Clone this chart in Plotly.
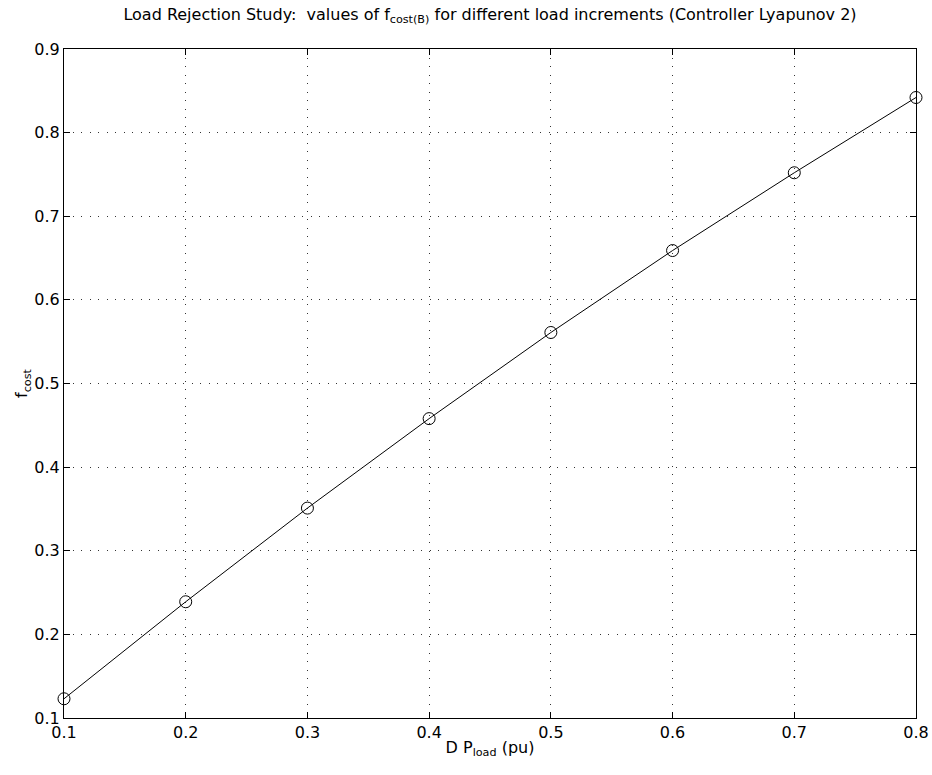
import plotly.graph_objects as go

delta_p_load = [0.1, 0.2, 0.3, 0.4, 0.5, 0.6, 0.7, 0.8]
f_cost = [0.123, 0.239, 0.351, 0.458, 0.561, 0.659, 0.752, 0.842]

x_ticks = [0.1, 0.2, 0.3, 0.4, 0.5, 0.6, 0.7, 0.8]
y_ticks = [0.1, 0.2, 0.3, 0.4, 0.5, 0.6, 0.7, 0.8, 0.9]

FONT = "DejaVu Sans, Liberation Sans, Arial, sans-serif"
FS = 16

fig = go.Figure()
fig.add_trace(go.Scatter(
    x=delta_p_load, y=f_cost, mode="lines+markers",
    line=dict(color="black", width=1),
    marker=dict(symbol="circle-open", size=12, color="black", line=dict(width=1, color="black")),
    showlegend=False, cliponaxis=False,
))

axis_common = dict(
    showline=True, linecolor="black", linewidth=1, mirror="ticks",
    ticks="inside", ticklen=6, tickcolor="black", tickwidth=1,
    showgrid=True, gridcolor="#333333", gridwidth=1, griddash="1px,7.5px",
    zeroline=False, tickfont=dict(family=FONT, size=FS, color="black"),
    tickformat=".1f", automargin=False,
)

fig.update_layout(
    width=932, height=775, autosize=False,
    margin=dict(l=63.5, r=16, t=48.7, b=57.3, autoexpand=False),
    paper_bgcolor="white", plot_bgcolor="white",
    font=dict(family=FONT, size=FS, color="black"),
    title=dict(
        text="Load Rejection Study:  values of f<sub>cost(B)</sub> for different load increments (Controller Lyapunov 2)",
        xref="paper", x=0.5, xanchor="center",
        yref="container", y=1 - 14 / 775, yanchor="middle",
        font=dict(family=FONT, size=FS, color="black"),
        automargin=False,
    ),
    xaxis=dict(range=[0.1, 0.8], tickvals=x_ticks,
               title=dict(text="D P<sub>load</sub> (pu)", standoff=0,
                          font=dict(family=FONT, size=FS)),
               **axis_common),
    yaxis=dict(range=[0.1, 0.9], tickvals=y_ticks,
               title=dict(text="f<sub>cost</sub>", standoff=2,
                          font=dict(family=FONT, size=FS)),
               **axis_common),
)

fig.write_html(
    "out.html",
    config={"displayModeBar": False, "responsive": False},
    post_script="document.body.style.margin='0';document.body.style.padding='0';document.body.style.overflow='hidden';",
)
